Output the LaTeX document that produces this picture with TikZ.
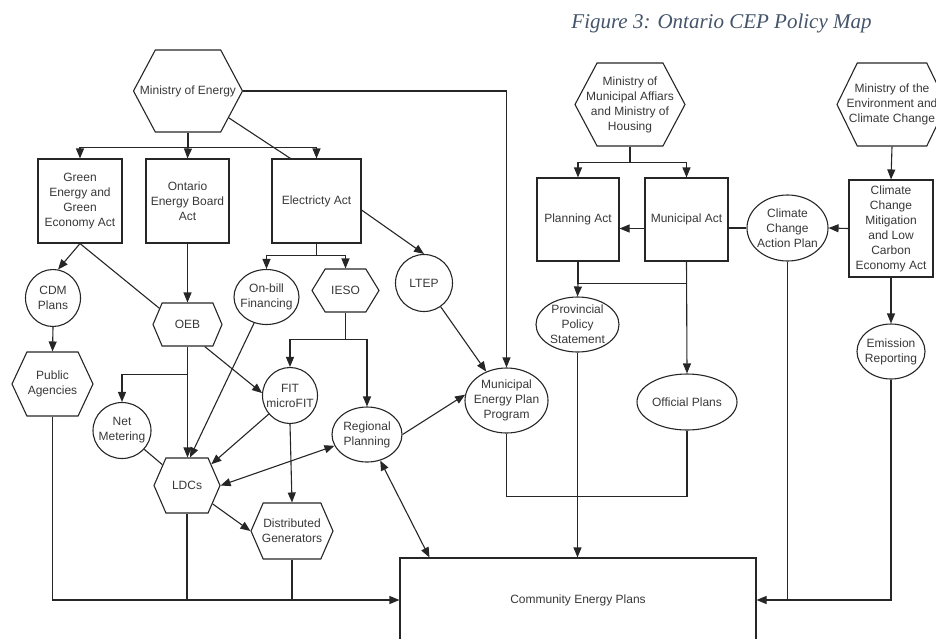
\documentclass[tikz,border=0pt]{standalone}
\usepackage{fontspec}
\setmainfont{Liberation Serif}
\newfontfamily\lsans{Liberation Sans}
\usepackage{tikz}
\usetikzlibrary{positioning}
\usetikzlibrary{calc}
\usetikzlibrary{arrows.meta}
\usetikzlibrary{shapes.geometric,shapes.symbols}

\definecolor{linec}{HTML}{262626}
\definecolor{txtc}{HTML}{383838}
\definecolor{capc}{HTML}{44546A}

\tikzset{
  base/.style={draw=linec, line width=1.1pt, inner sep=0pt, font=\lsans\fontsize{12}{15}\selectfont, text=txtc, align=center},
  actbox/.style n args={2}{base, rectangle, minimum width=#1, minimum height=#2},
  hexa/.style n args={3}{base, signal, signal to=east and west, minimum width=#1, minimum height=#2, signal pointer angle=#3},
  oval/.style n args={2}{base, ellipse, minimum width=#1, minimum height=#2},
  txt/.style={font=\lsans\fontsize{12}{15}\selectfont, text=txtc, align=center, inner sep=0pt},
  title/.style={font=\fontsize{21}{25}\selectfont\itshape, text=capc, inner sep=0pt},
  link/.style={draw=linec, line width=1.1pt},
  arr/.style={link, -{Triangle[length=10pt,width=8pt]}},
  dblarr/.style={link, {Triangle[length=10pt,width=8pt]}-{Triangle[length=10pt,width=8pt]}}
}

\begin{document}
\begin{tikzpicture}[x=1pt, y=-1pt]
\useasboundingbox (0,0) rectangle (936,638);
\clip (0,0) rectangle (936,638);

\node[title, anchor=base] (ttl) at (721.5,28) {Figure 3: Ontario CEP Policy Map};

% energy side
\node[hexa={109}{82}{124}, label={[txt]center:Ministry of Energy}] (moe) at (188,91) {};
\node[actbox={84}{84}] (gea) at (80,201) {Green\\Energy and\\Green\\Economy Act};
\node[actbox={83}{84}] (oeba) at (187.5,201) {Ontario\\Energy Board\\Act};
\node[actbox={89}{84}] (ea) at (316.5,201) {Electricty Act};
\node[oval={55}{57}, label={[txt]center:CDM\\Plans}] (cdm) at (53,298) {};
\node[hexa={69}{43}{134}, label={[txt]center:OEB}] (oeb) at (187.5,324.5) {};
\node[oval={65}{55}, label={[txt]center:On-bill\\Financing}] (onbill) at (266.5,297) {};
\node[hexa={67}{43}{117}, label={[txt]center:IESO}] (ieso) at (345.5,290.5) {};
\node[oval={57}{57}, label={[txt]center:LTEP}] (ltep) at (424,283) {};
\node[hexa={81}{64}{130}, label={[txt]center:Public\\Agencies}] (pa) at (52.5,384) {};
\node[oval={58}{56}, label={[txt]center:Net\\Metering}] (netm) at (122,430.5) {};
\node[oval={55}{56}, label={[txt]center:FIT\\microFIT}] (fit) at (290,395.5) {};
\node[oval={70}{55}, label={[txt]center:Regional\\Planning}] (rp) at (367,434.5) {};
\node[oval={83}{65}, label={[txt]center:Municipal\\Energy Plan\\Program}] (mepp) at (506.5,400.5) {};
\node[hexa={66}{55}{133}, label={[txt]center:LDCs}] (ldc) at (187,485.5) {};
\node[hexa={82}{56}{133}, label={[txt]center:Distributed\\Generators}] (dg) at (292,531) {};

% municipal and environment side
\node[hexa={110}{83}{124}, label={[txt]center:Ministry of\\Municipal Affiars\\and Ministry of\\Housing}] (mmah) at (630,104.5) {};
\node[hexa={110}{83}{128}, label={[txt]center:Ministry of the\\Environment and\\Climate Change}] (moecc) at (892,104.5) {};
\node[actbox={82}{83}] (pla) at (578,219.5) {Planning Act};
\node[actbox={83}{83}] (mua) at (686.5,219.5) {Municipal Act};
\node[oval={81}{66}, label={[txt]center:Climate\\Change\\Action Plan}] (ccap) at (787.5,228) {};
\node[actbox={84}{97}] (ccm) at (891,228.5) {Climate\\Change\\Mitigation\\and Low\\Carbon\\Economy Act};
\node[oval={83}{55}, label={[txt]center:Provincial\\Policy\\Statement}] (pps) at (577.5,324.5) {};
\node[oval={100}{56}, label={[txt]center:Official Plans}] (op) at (687,402) {};
\node[oval={68}{55}, label={[txt]center:Emission\\Reporting}] (emr) at (891,351.5) {};

\node[actbox={356}{84}] (cep) at (578,600) {Community Energy Plans};

\coordinate (j1) at ($(moe.south)+(0,15)$);
\coordinate (j2) at ($(ea.south)+(0,12)$);
\coordinate (j3) at ($(oeb.south)+(0,28)$);
\coordinate (j4) at ($(ieso.south)+(0,27)$);
\coordinate (j5) at ($(pla.south)+(0,22)$);
\coordinate (j6) at ($(mmah.south)+(0,16)$);

\draw[link] (moe.south) -- (j1);
\draw[arr] (j1) -| (gea.north);
\draw[arr] (j1) -- (oeba.north);
\draw[arr] (j1) -| (ea.north);
\draw[link] (moe) -- ($(ea.north west)+(19,0)$);
\draw[arr] (moe.east) -| (mepp.north);
\draw[arr] ($(ea.east)+(0,9)$) -- (ltep.north);
\draw[link] (ea.south) -- (j2);
\draw[arr] (j2) -| (onbill.north);
\draw[arr] (j2) -| (ieso.north);
\draw[arr] (gea.south) -- (cdm.80);
\draw[link] (gea.south) -- (oeb.150);
\draw[arr] (oeba.south) -- (oeb.north);
\draw[arr] (cdm.south) -- (pa.north);
\draw[arr] (oeb.south) -- (oeb.south |- ldc.north);
\draw[arr] (j3) -| (netm.north);
\draw[arr] (oeb.-52) -- (fit.175);
\draw[arr] (onbill) -- ($(ldc.north)+(3,0)$);
\draw[link] (ieso.south) -- (j4);
\draw[arr] (j4) -| (fit.north);
\draw[arr] (j4) -| (rp.north);
\draw[arr] (fit) -- (ldc);
\draw[arr] (fit.south) -- (dg.north);
\draw[dblarr] (ldc.east) -- (rp);
\draw[link] (netm) -- (ldc);
\draw[arr] (ldc) -- (dg.west);
\draw[arr] (rp.east) -- (mepp.172);
\draw[arr] (ltep) -- (mepp);
\draw[dblarr] (rp) -- ($(cep.north west)+(30,0)$);
\draw[arr] (pa.south) |- (cep.west);
\draw[link] (ldc.south) -- (ldc.south |- cep.west);
\draw[link] (dg.south) -- (dg.south |- cep.west);

\draw[link] (mmah.south) -- (j6);
\draw[arr] (j6) -| (pla.north);
\draw[arr] (j6) -| (mua.north);
\draw[arr] ($(mua.west)+(0,9)$) -- ($(pla.east)+(0,9)$);
\draw[link] (ccap.west) -- (ccap.west -| mua.east);
\draw[arr] (ccm.west) -- (ccap.east);
\draw[arr] (moecc.south) -- (ccm.north);
\draw[arr] (ccm.south) -- (emr.north);
\draw[link] (pla.south) -- (j5) -- (j5 -| mua.south);
\draw[arr] (j5) -- (pps.north);
\draw[arr] (mua.south) -- (op.north);
\draw[arr] (pps.south) -- (pps.south |- cep.north);
\draw[link] (mepp.south) -- ++(0,63) -| (op.south);
\draw[arr] (emr.south) |- (cep.east);
\draw[link] (ccap.south) -- (ccap.south |- cep.east);
\end{tikzpicture}
\end{document}
